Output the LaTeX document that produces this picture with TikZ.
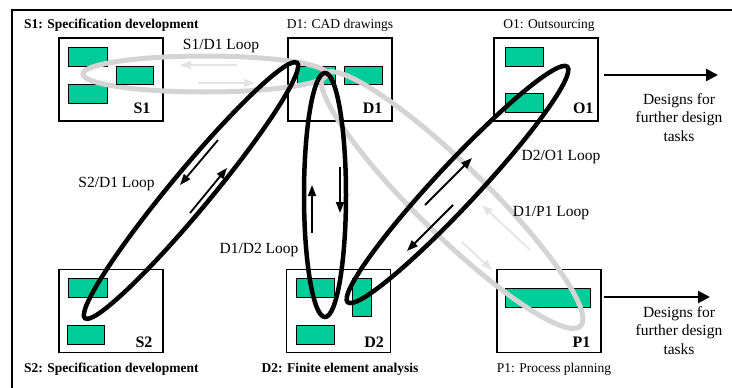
\documentclass[tikz,border=0pt]{standalone}
\usepackage{fontspec}
\setmainfont{Liberation Serif}
\usetikzlibrary{arrows.meta}
\definecolor{tealgreen}{RGB}{0,204,153}
\definecolor{loopgrey}{RGB}{212,212,212}
\definecolor{arrowgrey}{RGB}{228,228,228}
\begin{document}
\begin{tikzpicture}[x=1pt,y=-1pt,
  stagebox/.style={draw, line width=1.3pt, minimum width=104pt, minimum height=83pt, inner sep=0pt},
  task/.style={draw, line width=0.8pt, fill=tealgreen},
  boxtag/.style={font=\fontsize{16}{18}\selectfont\bfseries, inner sep=0pt, anchor=base east},
  toplbl/.style={font=\fontsize{13.5}{16}\selectfont, inner sep=0pt, anchor=base},
  looplbl/.style={font=\fontsize{15.5}{18.5}\selectfont, inner sep=0pt, anchor=base},
  outlbl/.style={font=\fontsize{15.5}{18.5}\selectfont, inner sep=0pt, align=center, anchor=north},
  greyloop/.style={draw=loopgrey, line width=5pt},
  blackloop/.style={draw=black, line width=4.5pt},
  looparrow/.style={draw=black, line width=1.8pt, -{Triangle[length=11pt,width=8pt]}},
  greyarrow/.style={draw=arrowgrey, line width=1.8pt, -{Triangle[length=11pt,width=8pt]}},
  outarrow/.style={draw=black, line width=2.5pt, -{Triangle[length=12pt,width=12pt]}},
  frame/.style={draw=black, line width=1.6pt}
]
\useasboundingbox (0,0) rectangle (732,388);
% frame
\draw[frame] (12,388) -- (12,10) -- (732,10);

% stage boxes
\node[stagebox] (s1) at (111,79.5) {};
\node[stagebox] (d1) at (340,79.5) {};
\node[stagebox] (o1) at (546,79.5) {};
\node[stagebox] (s2) at (111,311) {};
\node[stagebox] (d2) at (338.5,311) {};
\node[stagebox] (p1) at (549,311) {};

% task rectangles
\draw[task] (68,47) rectangle (107,66);
\draw[task] (68,84) rectangle (107,103);
\draw[task] (297,66) rectangle (335,84);
\draw[task] (344,66) rectangle (382,84);
\draw[task] (505,47) rectangle (543,66);
\draw[task] (505,93) rectangle (543,112);
\draw[task] (68,278) rectangle (107,297);
\draw[task] (67,325) rectangle (104,344);
\draw[task] (296,278) rectangle (334,297);
\draw[task] (352,278) rectangle (371,316);
\draw[task] (296,325) rectangle (334,344);
\draw[task] (505,288) rectangle (590,307);

% grey loops
\draw[greyloop] (205,74) ellipse [x radius=122pt, y radius=18pt];
\draw[greyloop, rotate around={-44.4:(452,200)}] (452,200) ellipse [x radius=180pt, y radius=35pt];
\draw[task] (116,66) rectangle (153,84);

% black loops
\draw[blackloop, rotate around={50.3:(191,190.5)}] (191,190.5) ellipse [x radius=166pt, y radius=20pt];
\draw[blackloop] (325,195) ellipse [x radius=21pt, y radius=122pt];
\draw[blackloop, rotate around={47:(457.5,184.5)}] (457.5,184.5) ellipse [x radius=161pt, y radius=21pt];

% arrows in loops
\draw[greyarrow] (237,65) -- (180,65);
\draw[greyarrow] (198,83) -- (255,83);
\draw[greyarrow] (530,250) -- (482,205);
\draw[greyarrow] (462,242) -- (492,270);
\draw[looparrow] (218,140) -- (180,185);
\draw[looparrow] (190,213) -- (227,168);
\draw[looparrow] (312,233) -- (312,185);
\draw[looparrow] (340,167) -- (340,213);
\draw[looparrow] (425,205) -- (472,158);
\draw[looparrow] (453,205) -- (407,251);

% box tags
\node[boxtag] (s1tag) at ([shift={(-13,-8)}]s1.south east) {S1};
\node[boxtag] (d1tag) at ([shift={(-10,-8)}]d1.south east) {D1};
\node[boxtag] (o1tag) at ([shift={(-5,-8)}]o1.south east) {O1};
\node[boxtag] (s2tag) at ([shift={(-11,-6)}]s2.south east) {S2};
\node[boxtag] (d2tag) at ([shift={(-7,-6)}]d2.south east) {D2};
\node[boxtag] (p1tag) at ([shift={(-11,-6)}]p1.south east) {P1};

% stage titles
\node[toplbl, anchor=base west, font=\fontsize{13.5}{16}\selectfont\bfseries] (s1name) at (24,28) {S1: Specification development};
\node[toplbl] (d1name) at (340,28) {D1: CAD drawings};
\node[toplbl] (o1name) at (549,28) {O1: Outsourcing};
\node[toplbl, anchor=base west, font=\fontsize{13.5}{16}\selectfont\bfseries] (s2name) at (24,372) {S2: Specification development};
\node[toplbl, font=\fontsize{13.5}{16}\selectfont\bfseries] (d2name) at (340,372) {D2: Finite element analysis};
\node[toplbl] (p1name) at (554,372) {P1: Process planning};

% loop labels
\node[looplbl] (l1) at (221,49) {S1/D1 Loop};
\node[looplbl] (l2) at (116.5,187) {S2/D1 Loop};
\node[looplbl] (l3) at (259,253) {D1/D2 Loop};
\node[looplbl] (l4) at (561,160) {D2/O1 Loop};
\node[looplbl] (l5) at (551,216) {D1/P1 Loop};

% outputs
\coordinate (o1out) at (718,75);
\coordinate (p1out) at (710,297);
\draw[outarrow, shorten <=5pt] (o1.east |- o1out) -- (o1out);
\draw[outarrow, shorten <=2pt] (p1.east |- p1out) -- (p1out);
\node[outlbl] (des1) at (679,93) {Designs for\\further design\\tasks};
\node[outlbl] (des2) at (679,306) {Designs for\\further design\\tasks};
\end{tikzpicture}
\end{document}
